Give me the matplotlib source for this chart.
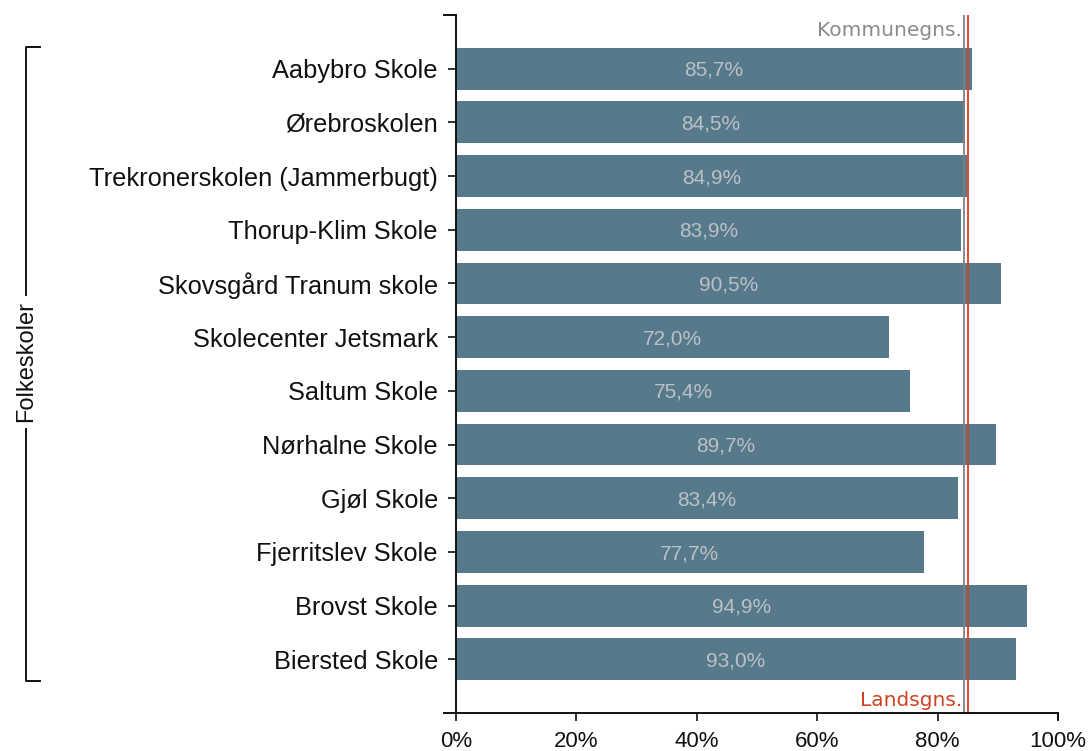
import matplotlib.pyplot as plt
import numpy as np

schools = ["Aabybro Skole", "Ørebroskolen", "Trekronerskolen (Jammerbugt)",
           "Thorup-Klim Skole", "Skovsgård Tranum skole", "Skolecenter Jetsmark",
           "Saltum Skole", "Nørhalne Skole", "Gjøl Skole", "Fjerritslev Skole",
           "Brovst Skole", "Biersted Skole"]
values = [85.7, 84.5, 84.9, 83.9, 90.5, 72.0, 75.4, 89.7, 83.4, 77.7, 94.9, 93.0]
kommune_avg = 84.4
lands_avg = 85.0
group_label = "Folkeskoler"
xticks = [0, 20, 40, 60, 80, 100]

plt.rcParams['font.family'] = ['Liberation Sans', 'DejaVu Sans']

fig = plt.figure(figsize=(10.89, 7.51), dpi=100)
ax = fig.add_axes([456/1089, 1-713/751, (1058-456)/1089, (713-15)/751])

y = np.arange(len(schools))
ax.barh(y, values, height=0.78, color='#56798b')
for yi, v in zip(y, values):
    ax.text(v/2, yi + 0.03, f"{v:.1f}%".replace('.', ','), ha='center', va='center',
            fontsize=15, color='#bcc1c5')

ax.axvline(kommune_avg, color='#808080', lw=1.3)
ax.axvline(lands_avg, color='#d0421f', lw=1.3)
ax.text(kommune_avg - 0.3, -0.72, "Kommunegns.", ha='right', va='center',
        fontsize=14.5, color='#8a8a8a', family='DejaVu Sans')
ax.text(kommune_avg - 0.3, 11.77, "Landsgns.", ha='right', va='center',
        fontsize=14.5, color='#d0421f', family='DejaVu Sans')

ax.set_xlim(0, 100)
ax.set_ylim(12, -1)
ax.set_yticks(y)
ax.set_yticklabels(schools, fontsize=18.3)
ax.set_xticks(xticks)
ax.set_xticklabels([f"{t}%" for t in xticks], fontsize=16)
ax.tick_params(axis='y', length=6, width=1.2, pad=7, colors='#111111')
ax.tick_params(axis='x', length=6, width=1.2, pad=7, colors='#111111')
for s in ['top', 'right']:
    ax.spines[s].set_visible(False)
for s in ['left', 'bottom']:
    ax.spines[s].set_linewidth(1.4)
    ax.spines[s].set_color('#111111')

# outer ticks like d3
ax.plot([-2, 0], [-1, -1], color='#111111', lw=1.4, clip_on=False)
ax.plot([-2, 0], [12, 12], color='#111111', lw=1.4, clip_on=False)
ax.plot([100, 100], [12, 12.12], color='#111111', lw=1.4, clip_on=False)

# group bracket
bx, bx2 = 26/1089, 40/1089
ytop, ybot = 1-47/751, 1-681/751
ymid = 1-362/751
fig.add_artist(plt.Line2D([bx2, bx, bx, bx2], [ytop, ytop, ybot, ybot],
                          transform=fig.transFigure, color='#111111', lw=1.4))
fig.text(bx, ymid, group_label, rotation=90, ha='center', va='center',
         fontsize=17, color='#111111',
         bbox=dict(facecolor='white', edgecolor='none', pad=4))

fig.savefig('out.png', dpi=100)
